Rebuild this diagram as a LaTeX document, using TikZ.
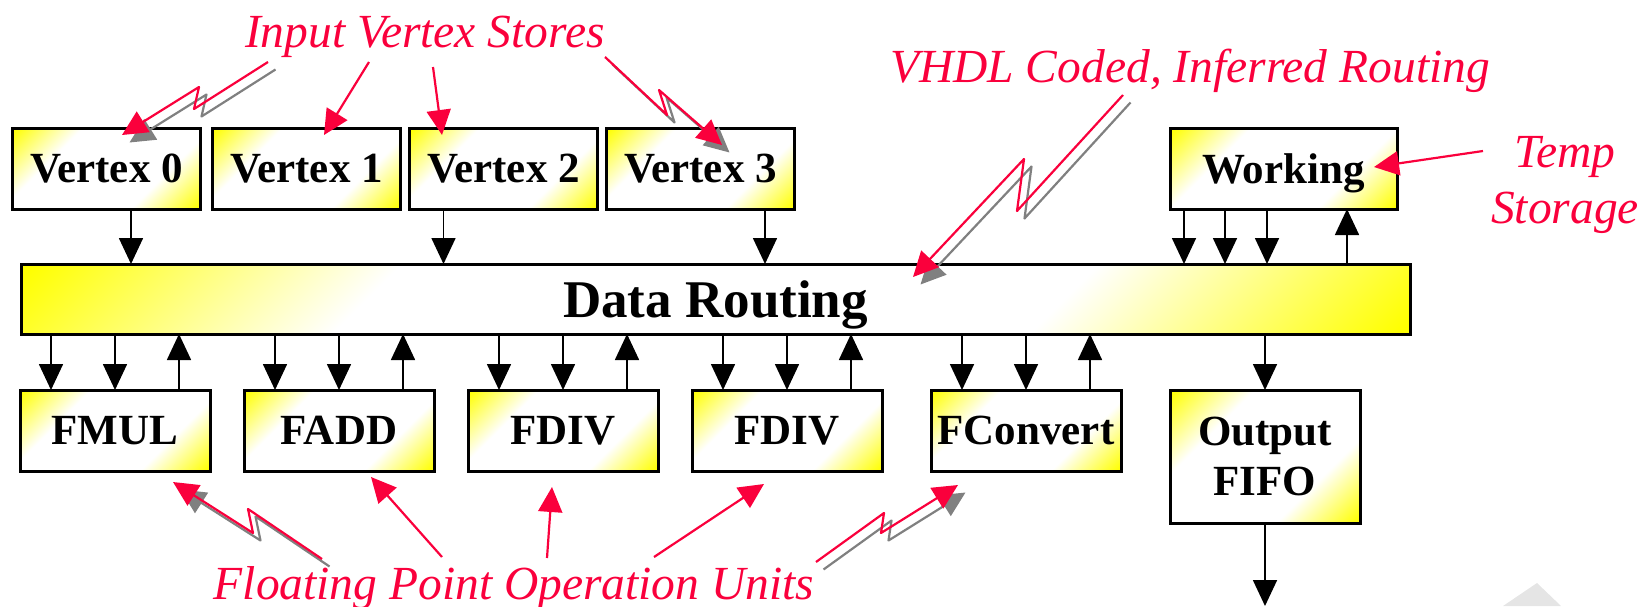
\documentclass[tikz,border=0pt]{standalone}
\usepackage{fontspec}
\setmainfont{Liberation Serif}
\usepackage{tikz}
\usetikzlibrary{positioning,calc,arrows.meta}

\definecolor{callred}{RGB}{250,0,60}
\definecolor{shadegray}{RGB}{128,128,128}
\pgfdeclarehorizontalshading{boxfill}{100bp}{%
    color(0bp)=(yellow); color(15bp)=(yellow);
    color(33bp)=(white); color(67bp)=(white);
    color(85bp)=(yellow); color(100bp)=(yellow)}

\tikzset{
    unit/.style={
        rectangle,
        draw=black, line width=1.5pt,
        shade, shading=boxfill, shading angle=-45,
        minimum width=95pt,
        minimum height=40.5pt,
        inner sep=0pt, outer sep=0pt,
        align=center,
        font={\fontsize{21.5pt}{25pt}\selectfont\bfseries}
    },
    flow/.style={
        draw=black, line width=0.85pt,
        -{Triangle[length=13pt,width=12pt,fill=black]}
    },
    callout/.style={
        draw=callred, line width=1.1pt, line join=round,
        -{Triangle[length=12.5pt,width=12pt,fill=callred]}
    },
    callshadow/.style={
        draw=shadegray, line width=1.1pt, line join=round,
        -{Triangle[length=12.5pt,width=12pt,fill=shadegray]},
        transform canvas={xshift=3.75pt, yshift=-3.75pt}
    },
    remark/.style={
        text=callred, inner sep=0pt,
        font={\fontsize{23.75pt}{28pt}\selectfont\itshape}
    },
}

\begin{document}
\begin{tikzpicture}[x=0.5pt, y=-0.5pt]
    \useasboundingbox (0,0) rectangle (1644,606);

    % Top row: the vertex stores and the working store
    \node[unit, minimum width=94pt]                    (v0)   at (106.5,168.5) {Vertex 0};
    \node[unit, minimum width=94pt, right=6pt of v0]   (v1)   {Vertex 1};
    \node[unit, minimum width=94pt, right=4.5pt of v1] (v2)   {Vertex 2};
    \node[unit, minimum width=94pt, right=4.5pt of v2] (v3)   {Vertex 3};
    \node[unit, minimum width=113.5pt, text depth=0pt,
          right=187.75pt of v3]                        (work) {Working};

    % The routing bus
    \node[unit, minimum width=694.5pt, minimum height=35pt, text depth=0pt,
          font={\fontsize{26.5pt}{30pt}\selectfont\bfseries}] (route) at (715.5,299) {Data Routing};

    % Bottom row: the floating point units and the output fifo
    \node[unit]                        (fmul)  at (115,430.5) {FMUL};
    \node[unit, right=17pt of fmul]    (fadd)  {FADD};
    \node[unit, right=17pt of fadd]    (fdivA) {FDIV};
    \node[unit, right=17pt of fdivA]   (fdivB) {FDIV};
    \node[unit, right=24.5pt of fdivB] (fconv) {FConvert};
    \node[unit, minimum height=66.5pt,
          right=24.5pt of fconv.north east, anchor=north west] (fifo) {Output\\FIFO};

    % Ports on the stores
    \coordinate (v0o) at ([xshift=12.25pt]v0.south);
    \coordinate (v2o) at ([xshift=-30pt]v2.south);
    \coordinate (v3o) at ([xshift=32.25pt]v3.south);
    \coordinate (w1) at ([xshift=-49.75pt]work.south);
    \coordinate (w2) at ([xshift=-29.25pt]work.south);
    \coordinate (w3) at ([xshift=-8.25pt]work.south);
    \coordinate (w4) at ([xshift=31.75pt]work.south);

    \path (v0o) edge[flow] (v0o |- route.north)
          (v2o) edge[flow] (v2o |- route.north)
          (v3o) edge[flow] (v3o |- route.north)
          (w1) edge[flow] (w1 |- route.north)
          (w2) edge[flow] (w2 |- route.north)
          (w3) edge[flow] (w3 |- route.north)
          (w4 |- route.north) edge[flow] (w4);

    % Two operands in, one result back
    \foreach \u in {fmul,fadd,fdivA,fdivB,fconv}{
        \coordinate (a\u) at ([xshift=-32pt]\u.north);
        \coordinate (b\u) at ([xshift=32pt]\u.north);
        \draw[flow] (a\u |- route.south) -- (a\u);
        \draw[flow] (\u.north |- route.south) -- (\u.north);
        \draw[flow] (b\u) -- (b\u |- route.south);
    }

    \coordinate (out) at (fifo.south |- 0,606);
    \draw[flow] (fifo.north |- route.south) -- (fifo.north);
    \draw[flow] (fifo.south) -- (out);

    % Remarks
    \node[remark, anchor=base]                (ivs)  at (425,47)   {Input Vertex Stores};
    \node[remark, anchor=base]                (vhdl) at (1190,82)  {VHDL Coded, Inferred Routing};
    \node[remark, anchor=north, align=center] (temp) at (1565,136) {Temp\\Storage};
    \node[remark, anchor=base]                (fpou) at (514,599)  {Floating Point Operation Units};

    % Ends of the callouts
    \coordinate (s0) at (268,62);   \coordinate (t0) at (122,135);
    \coordinate (s1) at (369,62);   \coordinate (t1) at (324,135);
    \coordinate (s2) at (433,67);   \coordinate (t2) at (442,135);
    \coordinate (s3) at (605,57);   \coordinate (t3) at (722,145);
    \coordinate (sr) at (1123,95);  \coordinate (tr) at (913,277);
    \coordinate (sw) at (1483,151); \coordinate (tw) at (1374,167);
    \coordinate (sm) at (322,559);  \coordinate (tm) at (173,482);
    \coordinate (sa) at (442,557);  \coordinate (ta) at (371,477);
    \coordinate (sd) at (547,558);  \coordinate (td) at (552,487);
    \coordinate (se) at (654,557);  \coordinate (te) at (764,484);
    \coordinate (sc) at (816,562);  \coordinate (tc) at (958,485);

    % Shadows of the broken callouts
    \draw[callshadow] (s0) -- (194,109) -- (199,87) -- (t0);
    \draw[callshadow] (s3) -- (667,115) -- (659,90) -- (t3);
    \draw[callshadow] (sr) -- (1017,211) -- (1024,159) -- (tr);
    \draw[callshadow] (sm) -- (248,509) -- (253,533) -- (tm);
    \draw[callshadow] (sc) -- (884,513) -- (881,533) -- (tc);

    \draw[callout] (s0) -- (194,109) -- (199,87) -- (t0);
    \draw[callout] (s3) -- (667,115) -- (659,90) -- (t3);
    \draw[callout] (sr) -- (1017,211) -- (1024,159) -- (tr);
    \draw[callout] (sm) -- (248,509) -- (253,533) -- (tm);
    \draw[callout] (sc) -- (884,513) -- (881,533) -- (tc);
    \path (s1) edge[callout] (t1)
          (s2) edge[callout] (t2)
          (sw) edge[callout] (tw)
          (sa) edge[callout] (ta)
          (sd) edge[callout] (td)
          (se) edge[callout] (te);

    \fill[gray!20] (1503,606) -- (1537,583) -- (1561,606) -- cycle;
\end{tikzpicture}
\end{document}
